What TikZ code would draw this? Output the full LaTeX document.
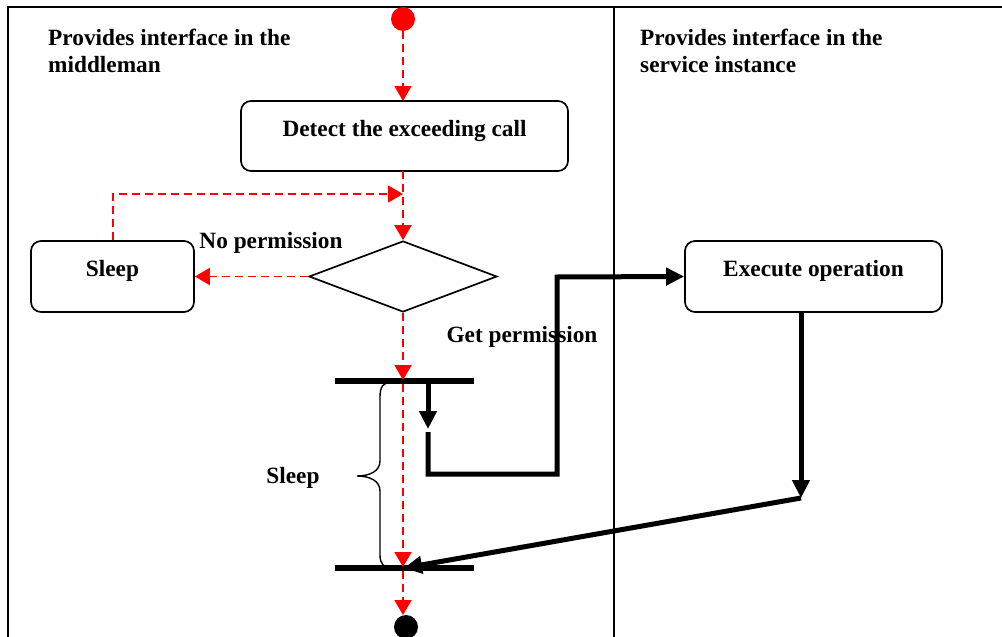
\documentclass[tikz,border=0pt]{standalone}
\usepackage{fontspec}
\setmainfont{Liberation Serif}
\usetikzlibrary{shapes.geometric,arrows.meta}
\begin{document}
\begin{tikzpicture}[x=1pt,y=-1pt,
  every node/.style={font=\fontsize{23.3}{27}\selectfont\bfseries},
  actbox/.style={draw,line width=1.7pt,rounded corners=10pt,inner sep=0pt},
  txt/.style={inner sep=0pt,anchor=base},
  lanetxt/.style={inner sep=0pt,anchor=base west,align=left},
  decision/.style={draw,diamond,line width=1.7pt,inner sep=0pt,minimum width=188pt,minimum height=71pt},
  syncbar/.style={fill=black,inner sep=0pt,minimum width=139pt,minimum height=6pt},
  flow/.style={red,line width=1.9pt,dash pattern=on 8pt off 5pt,-{Triangle[length=15pt,width=17pt]}},
  msg/.style={line width=5pt,-{Triangle[length=18pt,width=17pt]}},
  frame/.style={line width=1.7pt}]
\useasboundingbox (0,0) rectangle (1002,637);

% swimlane frame
\draw[frame] (8,637) -- (8,7) -- (1002,7);
\draw[frame] (614,7) -- (614,637);
\node[lanetxt] (laneL) at (48,72) {Provides interface in the\\middleman};
\node[lanetxt] (laneR) at (640,72) {Provides interface in the\\service instance};

% activity nodes
\node[circle,fill=red,inner sep=0pt,minimum size=24pt] (start) at (403,19) {};
\node[actbox,minimum width=327pt,minimum height=70pt] (detect) at (404.5,136) {};
\node[txt] (detectT) at (detect.center) {Detect the exceeding call};
\node[decision] (check) at (403,276.5) {};
\node[actbox,minimum width=163pt,minimum height=71pt] (sleep) at (112.5,276.5) {};
\node[txt] (sleepT) at (sleep.center) {Sleep};
\node[actbox,minimum width=257pt,minimum height=71pt] (exec) at (813.5,276.5) {};
\node[txt] (execT) at (exec.center) {Execute operation};
\node[syncbar] (fork) at (404.5,381) {};
\node[syncbar] (join) at (404.5,568) {};
\node[circle,fill=black,inner sep=0pt,minimum size=24pt] (final) at (406,627) {};

% labels
\node[txt] (noperm) at (271,248) {No permission};
\node[txt] (getperm) at (522,342) {Get permission};
\node[txt] (sleepB) at (293,483) {Sleep};

% helper points
\coordinate (detectIn) at (403,101);
\coordinate (detectOut) at (403,171);
\coordinate (loopTop) at (403,194);
\coordinate (loopLeft) at (113,194);
\coordinate (forkIn) at (403,380);
\coordinate (forkOut) at (403,384);
\coordinate (joinIn) at (403,567);
\coordinate (joinOut) at (403,571);
\coordinate (finalIn) at (403,615);
\coordinate (forkR) at (428,384);
\coordinate (midTip) at (428,429);
\coordinate (midGo) at (428,432);
\coordinate (turn1) at (428,474);
\coordinate (turn2) at (557,474);
\coordinate (turn3) at (557,277);
\coordinate (execDown) at (801,312);
\coordinate (execTip) at (801,498);
\coordinate (joinMsg) at (404,568);

% control flow (red, dashed)
\draw[flow] (start.south) -- (detectIn);
\draw[flow] (detectOut) -- (check.north);
\draw[flow] (check.west) -- (sleep.east);
\draw[flow] (sleep.north -| loopLeft) -- (loopLeft) -- (loopTop);
\draw[flow] (check.south) -- (forkIn);
\draw[flow] (forkOut) -- (joinIn);
\draw[flow] (joinOut) -- (finalIn);

% message flow (black, thick)
\draw[msg] (forkR) -- (midTip);
\draw[msg] (midGo) -- (turn1) -- (turn2) -- (turn3) -- (exec.west);
\draw[msg] (exec.south -| execDown) -- (execTip);
\draw[msg] (execTip) -- (joinMsg);

% brace spanning the sleep interval
\draw[line width=1.4pt] (392,382) .. controls (383,382) and (380,387) .. (380,397)
  -- (380,461) .. controls (380,471) and (370,476) .. (357,476)
  .. controls (370,476) and (380,481) .. (380,491)
  -- (380,555) .. controls (380,564) and (384,568) .. (392,568);
\end{tikzpicture}
\end{document}
